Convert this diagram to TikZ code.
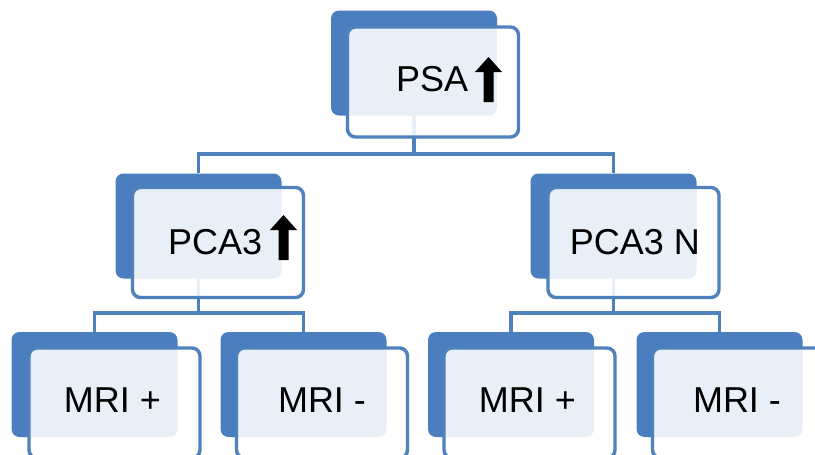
\documentclass[tikz,border=0pt]{standalone}
\usepackage{fontspec}
\setmainfont{Liberation Sans}
\definecolor{boxblue}{HTML}{4A7EBF}
\definecolor{lineblue}{HTML}{4F81BD}
\begin{document}
\begin{tikzpicture}[x=1pt,y=-1pt,
 back/.style={fill=boxblue, rounded corners=8pt, minimum width=166pt, minimum height=105pt, inner sep=0pt},
 front/.style={draw=lineblue, line width=3.4pt, fill=white, fill opacity=0.88, rounded corners=8pt, minimum width=171pt, minimum height=110pt, inner sep=0pt},
 conn/.style={draw=lineblue, line width=3.6pt},
 lbl/.style={font=\fontsize{36}{40}\selectfont, inner sep=0pt},
 uparrow/.pic={\fill[black] (-5,0) -- (5,0) -- (5,-30) -- (13.5,-30) -- (0,-45) -- (-13.5,-30) -- (-5,-30) -- cycle;}
 ]
\useasboundingbox (0,0) rectangle (815,455);
\clip (0,0) rectangle (815,455);
\fill[white] (0,0) rectangle (815,455);
% back rectangles
\node[back] (psaB) at (414,63) {};
\node[back] (pclB) at (198.5,226) {};
\node[back] (pcrB) at (613.5,226) {};
\node[back] (m1B) at (94.5,384.5) {};
\node[back] (m2B) at (303.5,384.5) {};
\node[back] (m3B) at (511,384.5) {};
\node[back] (m4B) at (719.5,384.5) {};
% connectors
\coordinate (j0) at (414,154);
\coordinate (j1) at (198.5,313);
\coordinate (j2) at (613.5,313);
\draw[conn] (psaB.center) -- (j0);
\draw[conn] (pclB.north) |- (j0) -| (pcrB.north);
\draw[conn] (pclB.center) -- (j1);
\draw[conn] (m1B.north) |- (j1) -| (m2B.north);
\draw[conn] (pcrB.center) -- (j2);
\draw[conn] (m3B.north) |- (j2) -| (m4B.north);
% front boxes
\node[front] (psaF) at (433,82) {};
\node[front] (pclF) at (218,242.5) {};
\node[front] (pcrF) at (633.5,242.5) {};
\node[front] (m1F) at (114.5,403) {};
\node[front] (m2F) at (322,403) {};
\node[front] (m3F) at (529.5,403) {};
\node[front] (m4F) at (738,403) {};
% labels
\node[lbl, anchor=west] (psaT) at (396,79.5) {PSA};
\pic at (488.5,102) {uparrow};
\node[lbl, anchor=west] (pclT) at (168,242.5) {PCA3};
\pic at (283.5,260) {uparrow};
\node[lbl] (pcrT) at (635,242.5) {PCA3 N};
\node[lbl] (m1T) at (112.5,400.5) {MRI +};
\node[lbl] (m2T) at (322,400.5) {MRI -};
\node[lbl] (m3T) at (527.5,400.5) {MRI +};
\node[lbl] (m4T) at (737,400.5) {MRI -};
\end{tikzpicture}
\end{document}
